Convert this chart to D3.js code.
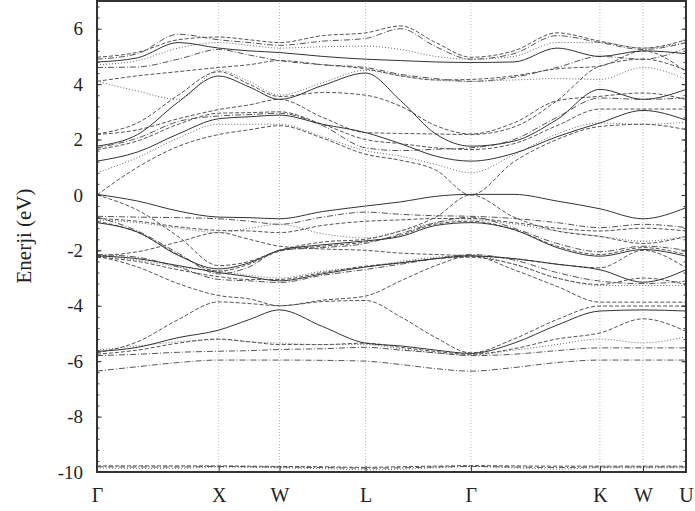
<!DOCTYPE html>
<html>
<head>
<meta charset="utf-8">
<script src="https://cdn.jsdelivr.net/npm/d3@7/dist/d3.min.js"></script>
<style>
  body { margin: 0; background: #fff; }
  svg { display: block; }
  text { font-family: "Liberation Serif", "Times New Roman", Times, serif; fill: #222; }
</style>
</head>
<body>
<svg id="chart" width="695" height="511"></svg>
<script>
//======
// Data
//======

// high symmetry points along the fcc path (distance in 2pi/a)
const kLabels = ["Γ", "X", "W", "L", "Γ", "K", "W", "U"];
const kTicks  = [0, 1, 1.5, 2.2071, 3.0731, 4.1338, 4.4874, 4.8410];

// k positions where band energies were read off
//  G    GX1     GX2     X  XW    W    WL      L       LG1     LG2     G       GK1     GK2     K       W       U
const kGrid = [0, 0.3333, 0.6667, 1, 1.25, 1.5, 1.8536, 2.2071, 2.4958, 2.7844, 3.0731, 3.4267, 3.7802, 4.1338, 4.4874, 4.8410];

const yTicks = [-10, -8, -6, -4, -2, 0, 2, 4, 6];

const bandsSolid = [
  [1.22, 1.55, 2.2, 2.75, 2.82, 2.88, 2.55, 2.25, 1.85, 1.4, 1.22, 1.5, 2.1, 2.6, 3.05, 2.7],
  [1.76, 2.18, 3.35, 4.29, 3.9, 3.45, 3.95, 4.4, 3.4, 2.2, 1.76, 1.94, 2.72, 3.81, 3.45, 3.81],
  [4.8, 4.95, 5.5, 5.3, 5.2, 5.14, 5.0, 4.9, 4.85, 4.8, 4.78, 4.8, 5.3, 5.0, 5.2, 5.1],
  [0.02, -0.22, -0.58, -0.8, -0.82, -0.86, -0.6, -0.4, -0.25, -0.05, 0.02, 0.02, -0.22, -0.5, -0.86, -0.46],
  [-1.0, -1.34, -2.18, -2.67, -2.45, -2.0, -1.8, -1.66, -1.5, -1.1, -1.0, -1.25, -1.9, -2.21, -1.97, -2.21],
  [-2.2, -2.3, -2.55, -2.8, -2.95, -3.1, -2.85, -2.6, -2.45, -2.3, -2.2, -2.3, -2.5, -2.7, -3.15, -2.7],
  [-5.65, -5.5, -5.15, -4.88, -4.5, -4.15, -4.75, -5.35, -5.45, -5.6, -5.72, -5.35, -4.7, -4.19, -4.15, -4.19]
];

const bandsDashed = [
  [0.0, 1.0, 1.75, 2.18, 2.35, 2.5, 2.05, 1.47, 1.25, 0.9, 0.0, 1.2, 2.0, 2.47, 2.55, 2.36],
  [1.64, 1.95, 2.55, 2.95, 2.97, 3.0, 2.55, 2.0, 1.85, 1.7, 1.64, 1.85, 2.5, 3.1, 3.1, 3.1],
  [2.18, 2.35, 2.75, 3.08, 3.25, 3.45, 2.8, 2.25, 2.22, 2.2, 2.18, 2.45, 3.4, 4.65, 4.9, 4.5],
  [2.2, 2.6, 3.6, 4.45, 4.0, 3.55, 3.7, 3.6, 3.2, 2.5, 2.2, 2.6, 3.4, 3.56, 3.68, 3.45],
  [4.1, 4.3, 4.45, 4.6, 4.7, 4.85, 4.7, 4.55, 4.3, 4.15, 4.17, 4.3, 4.55, 4.65, 5.2, 4.45],
  [4.97, 5.15, 5.6, 5.7, 5.6, 5.5, 5.75, 5.85, 6.1, 5.5, 4.97, 5.2, 5.85, 5.55, 5.3, 5.6],
  [0.0, -0.55, -1.5, -2.55, -2.4, -2.0, -1.7, -1.6, -1.3, -0.8, 0.0, -0.8, -1.3, -1.5, -1.75, -1.5],
  [-0.85, -0.95, -1.15, -1.28, -1.3, -1.36, -1.1, -0.95, -0.9, -0.85, -0.85, -1.0, -1.2, -1.3, -1.2, -1.3],
  [-0.95, -1.35, -2.15, -2.75, -2.5, -2.03, -1.85, -1.7, -1.45, -1.05, -0.95, -1.25, -1.85, -2.15, -1.9, -2.15],
  [-2.2, -2.05, -1.7, -1.36, -1.6, -1.85, -1.95, -2.0, -2.1, -2.15, -2.2, -2.3, -2.5, -2.63, -2.0, -2.63],
  [-2.25, -2.4, -2.7, -2.95, -3.05, -3.05, -2.8, -2.57, -2.45, -2.3, -2.25, -2.5, -3.0, -3.23, -3.0, -3.23],
  [-2.2, -2.6, -3.2, -3.63, -3.75, -4.0, -3.8, -3.65, -3.1, -2.55, -2.2, -2.7, -3.3, -3.87, -3.87, -3.87],
  [-5.7, -5.3, -4.5, -3.86, -3.92, -4.0, -3.85, -3.81, -4.4, -5.15, -5.7, -5.2, -4.5, -4.01, -4.01, -4.01],
  [-5.75, -5.6, -5.35, -5.2, -5.3, -5.4, -5.4, -5.35, -5.5, -5.65, -5.75, -5.55, -5.2, -4.98, -4.47, -4.92],
  [-9.78, -9.78, -9.78, -9.78, -9.79, -9.8, -9.81, -9.83, -9.81, -9.79, -9.77, -9.78, -9.79, -9.79, -9.79, -9.79]
];

const bandsDotted = [
  [0.8, 1.35, 2.05, 2.55, 2.55, 2.55, 2.1, 1.6, 1.4, 1.1, 0.8, 1.45, 2.2, 2.6, 2.55, 2.62],
  [4.1, 3.75, 3.45, 4.5, 4.1, 3.6, 4.05, 4.5, 4.3, 4.15, 4.1, 4.15, 4.2, 4.17, 4.6, 4.17],
  [4.7, 4.85, 5.3, 5.5, 5.4, 5.3, 5.35, 5.37, 5.25, 5.0, 4.9, 5.0, 5.5, 5.5, 5.3, 5.5],
  [-0.9, -1.0, -1.2, -1.36, -1.2, -1.06, -1.4, -1.55, -1.3, -1.0, -0.9, -1.05, -1.3, -1.49, -1.67, -1.49],
  [-2.2, -2.35, -2.6, -2.75, -2.9, -3.0, -2.75, -2.6, -2.4, -2.25, -2.2, -2.5, -3.0, -3.27, -3.27, -3.27],
  [-5.6, -5.45, -5.3, -5.22, -5.3, -5.35, -5.4, -5.4, -5.55, -5.7, -5.78, -5.6, -5.4, -5.2, -5.34, -5.12],
  [-9.85, -9.87, -9.87, -9.82, -9.83, -9.85, -9.88, -9.92, -9.9, -9.85, -9.8, -9.85, -9.9, -9.85, -9.85, -9.85]
];

const bandsDashDot = [
  [1.7, 2.05, 2.65, 2.85, 2.9, 2.95, 2.5, 1.7, 1.6, 1.65, 1.7, 2.0, 2.8, 3.5, 3.45, 3.5],
  [4.9, 5.1, 5.8, 5.6, 5.5, 5.4, 5.55, 5.65, 6.0, 5.35, 4.9, 5.1, 5.75, 5.5, 5.25, 5.5],
  [4.6, 4.62, 4.9, 5.25, 5.05, 4.85, 4.7, 4.6, 4.35, 4.2, 4.1, 4.25, 4.6, 5.0, 4.9, 5.3],
  [-0.77, -0.8, -0.82, -0.86, -0.95, -1.06, -0.8, -0.62, -0.7, -0.75, -0.77, -0.85, -1.0, -1.18, -1.06, -1.18],
  [-0.8, -1.3, -2.1, -2.85, -2.6, -2.0, -1.9, -1.75, -1.4, -1.0, -0.8, -1.2, -1.75, -2.05, -1.85, -2.0],
  [-2.15, -2.25, -2.6, -3.05, -3.1, -3.16, -2.9, -2.69, -2.5, -2.3, -2.15, -2.35, -2.8, -3.11, -3.2, -3.11],
  [-5.8, -5.75, -5.68, -5.64, -5.62, -5.58, -5.55, -5.5, -5.6, -5.7, -5.8, -5.75, -5.62, -5.52, -5.52, -5.52],
  [-6.36, -6.2, -6.05, -5.96, -5.96, -5.96, -5.97, -6.0, -6.12, -6.27, -6.36, -6.23, -6.05, -5.96, -5.96, -5.96],
  [-9.81, -9.82, -9.82, -9.8, -9.81, -9.82, -9.84, -9.86, -9.85, -9.82, -9.8, -9.82, -9.84, -9.82, -9.82, -9.82]
];

//=======
// Chart
//=======

var width = 695, height = 511;
var margin = {left: 97, right: 9, top: 1, bottom: 39};
var serif = "'Liberation Serif', 'Times New Roman', Times, serif";

var svg = d3.select("#chart");

var x = d3.scaleLinear()
  .domain([0, kTicks[kTicks.length - 1]])
  .range([margin.left, width - margin.right]);

var y = d3.scaleLinear()
  .domain([-10, 7])
  .range([height - margin.bottom, margin.top]);

svg.append("clipPath").attr("id", "plot-clip")
  .append("rect")
  .attr("x", x.range()[0]).attr("y", y.range()[1])
  .attr("width", x.range()[1] - x.range()[0])
  .attr("height", y.range()[0] - y.range()[1]);

// dotted verticals at the symmetry points
svg.append("g")
  .selectAll("line")
  .data(kTicks.slice(1, -1))
  .enter().append("line")
  .attr("x1", d => x(d)).attr("x2", d => x(d))
  .attr("y1", y(-10)).attr("y2", y(7))
  .attr("stroke", "#aaa")
  .attr("stroke-width", 0.8)
  .attr("stroke-dasharray", "1,2");

var line = d3.line()
  .x((d, i) => x(kGrid[i]))
  .y(d => y(d))
  .curve(d3.curveMonotoneX);

function drawBands(bands, dash, color) {
  svg.append("g")
    .attr("clip-path", "url(#plot-clip)")
    .selectAll("path")
    .data(bands)
    .enter().append("path")
    .attr("d", line)
    .attr("fill", "none")
    .attr("stroke", color)
    .attr("stroke-width", 1)
    .attr("stroke-dasharray", dash);
}

drawBands(bandsDotted, "1,2", "#666");
drawBands(bandsDashed, "4,2", "#555");
drawBands(bandsDashDot, "6,2,1,2", "#555");
drawBands(bandsSolid, null, "#333");

// y axis, ticks pointing inwards
var minor = d3.range(-10, 7.01, 0.4).map(v => +v.toFixed(2));

svg.append("g")
  .attr("transform", "translate(" + x.range()[0] + ",0)")
  .call(d3.axisLeft(y).tickValues(minor).tickSize(-2.5).tickFormat(""))
  .call(g => g.select(".domain").remove())
  .selectAll("line").attr("stroke", "#444");

svg.append("g")
  .attr("transform", "translate(" + x.range()[1] + ",0)")
  .call(d3.axisRight(y).tickValues(minor).tickSize(-2.5).tickFormat(""))
  .call(g => g.select(".domain").remove())
  .selectAll("line").attr("stroke", "#444");

var yAxis = svg.append("g")
  .attr("transform", "translate(" + x.range()[0] + ",0)")
  .attr("font-family", serif)
  .call(d3.axisLeft(y).tickValues(yTicks).tickSize(-4.5).tickPadding(14).tickFormat(d => String(d)));
yAxis.attr("font-family", serif);
yAxis.select(".domain").remove();
yAxis.selectAll("line").attr("stroke", "#333");
yAxis.selectAll("text")
  .style("font-family", serif)
  .attr("font-size", 19)
  .attr("fill", "#222");

svg.append("g")
  .attr("transform", "translate(" + x.range()[1] + ",0)")
  .call(d3.axisRight(y).tickValues(yTicks).tickSize(-4.5).tickFormat(""))
  .call(g => g.select(".domain").remove())
  .selectAll("line").attr("stroke", "#333");

// x axis: symmetry labels
var xAxis = svg.append("g")
  .attr("transform", "translate(0," + y.range()[0] + ")")
  .call(d3.axisBottom(x).tickValues(kTicks).tickSize(-6)
    .tickFormat((d, i) => kLabels[i]));
xAxis.attr("font-family", serif);
xAxis.select(".domain").remove();
xAxis.selectAll("line").attr("stroke", "#333");
xAxis.selectAll("text")
  .style("font-family", serif)
  .attr("y", 30)
  .attr("dy", 0)
  .attr("font-size", 20)
  .attr("fill", "#222");

// frame
svg.append("rect")
  .attr("x", x.range()[0]).attr("y", y.range()[1])
  .attr("width", x.range()[1] - x.range()[0])
  .attr("height", y.range()[0] - y.range()[1])
  .attr("fill", "none")
  .attr("stroke", "#333")
  .attr("stroke-width", 2);

svg.append("text")
  .attr("transform", "translate(31,236) rotate(-90)")
  .attr("text-anchor", "middle")
  .style("font-family", serif)
  .attr("font-size", 21)
  .text("Enerji (eV)");
</script>
</body>
</html>
